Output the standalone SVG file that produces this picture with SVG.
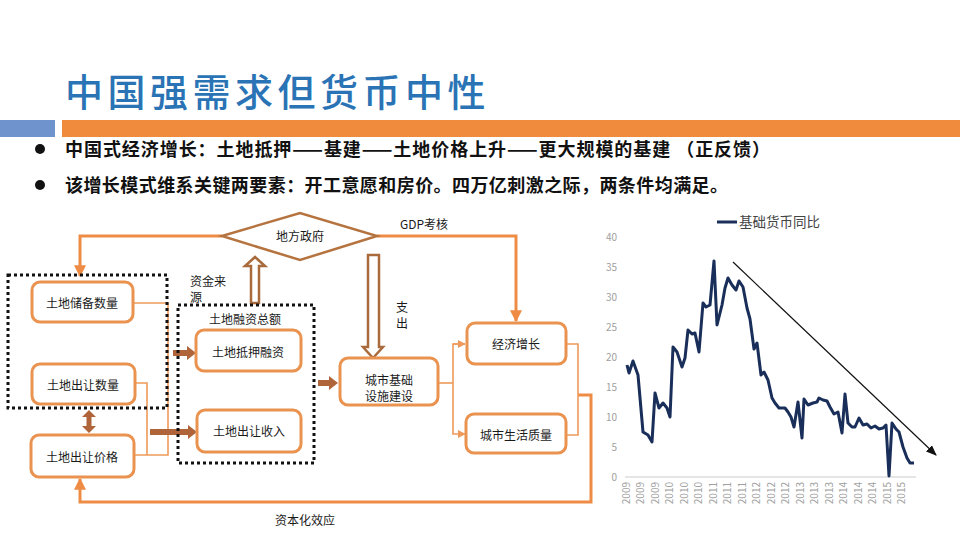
<svg xmlns="http://www.w3.org/2000/svg" width="960" height="540" viewBox="0 0 960 540">
<defs>
<style>
text{font-family:"Noto Sans CJK SC","Liberation Sans",sans-serif;}
.node rect{fill:#fff;stroke:#ea9350;stroke-width:3;}
.nt{font-size:12px;fill:#1a1a1a;text-anchor:middle;}
.lbl{font-size:12px;fill:#1a1a1a;}
.dot{fill:none;stroke:#111;stroke-width:3;stroke-dasharray:3 3;}
.oline{fill:none;stroke:#ee8b45;stroke-width:3;}
.thin{fill:none;stroke:#ee9a5a;stroke-width:1.6;}
.hollow{fill:#fff;stroke:#a96a3c;stroke-width:2.5;stroke-linejoin:miter;}
.thick{fill:#b0643a;stroke:none;}
.ax{font-size:10px;fill:#a0a0a0;font-family:"Liberation Sans",sans-serif;}
.bul{font-size:18px;font-weight:700;fill:#111;}
</style>
<marker id="oa" viewBox="0 0 10 10" refX="9" refY="5" markerWidth="4" markerHeight="4" orient="auto"><path d="M0,0L10,5L0,10z" fill="#ee8b45"/></marker>
<marker id="oa2" viewBox="0 0 10 10" refX="9" refY="5" markerWidth="5" markerHeight="5" orient="auto"><path d="M0,0L10,5L0,10z" fill="#ee9a5a"/></marker>
<marker id="ka" viewBox="0 0 10 10" refX="9" refY="5" markerWidth="9" markerHeight="9" orient="auto"><path d="M0,1L10,5L0,9z" fill="#111"/></marker>
</defs>
<rect width="960" height="540" fill="#fff"/>

<!-- header -->
<text x="65" y="106" font-size="38" font-weight="500" fill="#2a74b6" letter-spacing="4.5">中国强需求但货币中性</text>
<rect x="0" y="120" width="55" height="17" fill="#6f93cc"/>
<rect x="62" y="120" width="898" height="17" fill="#f08a3c"/>
<circle cx="40" cy="149" r="5" fill="#111"/>
<circle cx="40" cy="185" r="5" fill="#111"/>
<text class="bul" x="65" y="156" textLength="705" lengthAdjust="spacing">中国式经济增长：土地抵押——基建——土地价格上升——更大规模的基建 （正反馈）</text>
<text class="bul" x="65" y="192" textLength="663" lengthAdjust="spacing">该增长模式维系关键两要素：开工意愿和房价。四万亿刺激之际，两条件均满足。</text>

<!-- connectors -->
<g id="connectors">
<polyline class="oline" points="222,236 80,236 80,276" marker-end="url(#oa)"/>
<polyline class="oline" points="377,236 516,236 516,321" marker-end="url(#oa)"/>
<polyline class="oline" points="578,395 591,395 591,502 80,502 80,479" marker-end="url(#oa)"/>
<polyline class="thin" points="133,303 168,303 168,455 134,455"/>
<polyline class="thin" points="135,383 147,383 147,455"/>
<polyline class="thin" points="438,383 453,383"/>
<polyline class="thin" points="465,344 453,344 453,434 465,434" marker-end="url(#oa2)"/>
<polyline class="thin" points="453,344 465,344" marker-end="url(#oa2)"/>
<polyline class="thin" points="566,344 578,344 578,435 566,435"/>
<!-- hollow arrows -->
<polygon class="hollow" points="255,257 265,266 259,266 259,303 251,303 251,266 245,266"/>
<polygon class="hollow" points="368,255 379,255 379,347 383,347 373,358 363,347 368,347"/>
<!-- thick arrows -->
<polygon class="thick" points="150,429 188,429 188,425 197,432 188,439 188,435 150,435"/>
<polygon class="thick" points="173,350 187,350 187,346 196,353 187,360 187,356 173,356"/>
<polygon class="thick" points="318,380 329,380 329,376 338,383 329,390 329,386 318,386"/>
<polygon class="thick" points="89,410 96,417 91.5,417 91.5,426 96,426 89,433 82,426 86.5,426 86.5,417 82,417"/>
</g>

<!-- dotted groups -->
<rect class="dot" x="8" y="275" width="159" height="133"/>
<rect class="dot" x="178" y="305" width="136" height="158"/>

<!-- nodes -->
<g id="gov"><polygon points="222,236 300,213 377,236 300,260" fill="#fff" stroke="#b5733f" stroke-width="2.5"/><text class="nt" x="300" y="241">地方政府</text></g>
<g id="n1" class="node"><rect x="32" y="282" width="101" height="40" rx="8"/><text class="nt" x="82" y="308">土地储备数量</text></g>
<g id="n2" class="node"><rect x="32" y="364" width="103" height="40" rx="8"/><text class="nt" x="83" y="390">土地出让数量</text></g>
<g id="n3" class="node"><rect x="31" y="435" width="103" height="42" rx="8"/><text class="nt" x="82" y="462">土地出让价格</text></g>
<g id="n4" class="node"><rect x="196" y="330" width="105" height="41" rx="8"/><text class="nt" x="248" y="357">土地抵押融资</text></g>
<g id="n5" class="node"><rect x="197" y="410" width="104" height="42" rx="8"/><text class="nt" x="249" y="436">土地出让收入</text></g>
<g id="n6" class="node"><rect x="340" y="358" width="98" height="47" rx="8"/><text class="nt" x="389" y="385">城市基础</text><text class="nt" x="389" y="401">设施建设</text></g>
<g id="n7" class="node"><rect x="467" y="323" width="99" height="41" rx="8"/><text class="nt" x="516" y="349">经济增长</text></g>
<g id="n8" class="node"><rect x="466" y="414" width="100" height="39" rx="8"/><text class="nt" x="516" y="440">城市生活质量</text></g>

<!-- labels -->
<text class="lbl" x="400" y="229">GDP考核</text>
<text class="lbl" x="190" y="286">资金来</text>
<text class="lbl" x="190" y="302">源</text>
<text class="lbl" x="245" y="324" text-anchor="middle">土地融资总额</text>
<text class="lbl" x="396" y="312">支</text>
<text class="lbl" x="396" y="328">出</text>
<text class="lbl" x="275" y="525">资本化效应</text>

<!-- chart -->
<g id="chart">
<line x1="717" y1="222" x2="737" y2="222" stroke="#1a2e5a" stroke-width="3"/>
<text x="739" y="227" font-size="13.5" fill="#444">基础货币同比</text>
<g class="ax" text-anchor="end">
<text x="617" y="241">40</text><text x="617" y="271">35</text><text x="617" y="301">30</text><text x="617" y="331">25</text><text x="617" y="361">20</text><text x="617" y="391">15</text><text x="617" y="421">10</text><text x="617" y="451">5</text><text x="617" y="481">0</text>
</g>
<line x1="625" y1="477" x2="916" y2="477" stroke="#ccc" stroke-width="1"/>
<g class="ax" text-anchor="end">
<text transform="translate(630,482) rotate(-90)">2009</text>
<text transform="translate(644,482) rotate(-90)">2009</text>
<text transform="translate(659,482) rotate(-90)">2009</text>
<text transform="translate(673,482) rotate(-90)">2010</text>
<text transform="translate(688,482) rotate(-90)">2010</text>
<text transform="translate(702,482) rotate(-90)">2010</text>
<text transform="translate(717,482) rotate(-90)">2011</text>
<text transform="translate(731,482) rotate(-90)">2011</text>
<text transform="translate(746,482) rotate(-90)">2011</text>
<text transform="translate(760,482) rotate(-90)">2012</text>
<text transform="translate(775,482) rotate(-90)">2012</text>
<text transform="translate(789,482) rotate(-90)">2012</text>
<text transform="translate(804,482) rotate(-90)">2013</text>
<text transform="translate(818,482) rotate(-90)">2013</text>
<text transform="translate(833,482) rotate(-90)">2013</text>
<text transform="translate(847,482) rotate(-90)">2014</text>
<text transform="translate(862,482) rotate(-90)">2014</text>
<text transform="translate(876,482) rotate(-90)">2014</text>
<text transform="translate(891,482) rotate(-90)">2015</text>
<text transform="translate(905,482) rotate(-90)">2015</text>
</g>
<polyline fill="none" stroke="#1a2e5a" stroke-width="3" stroke-linejoin="round" points="627,365 629,373 633,361 638,375 643,432 648,435 652,442 655,393 659,408 663,403 667,408 670,417 673,347 677,352 682,367 685,358 688,330 692,334 695,333 699,352 703,303 706,307 710,305 714,261 717,325 722,305 725,288 728,278 732,285 736,290 739,281 743,287 747,308 750,319 754,349 757,343 761,375 764,372 768,380 772,398 775,403 779,408 785,408 788,412 791,417 794,427 798,402 802,438 804,399 808,405 813,403 817,402 819,398 823,400 827,401 830,407 834,414 838,412 842,433 845,394 848,423 852,427 855,427 859,418 863,425 867,424 871,428 875,426 879,429 883,428 886,425 889,476 892,423 896,429 899,432 903,447 907,458 910,463 914,463"/>
<line x1="733" y1="262" x2="936" y2="455" stroke="#111" stroke-width="1.2" marker-end="url(#ka)"/>
</g>
</svg>
